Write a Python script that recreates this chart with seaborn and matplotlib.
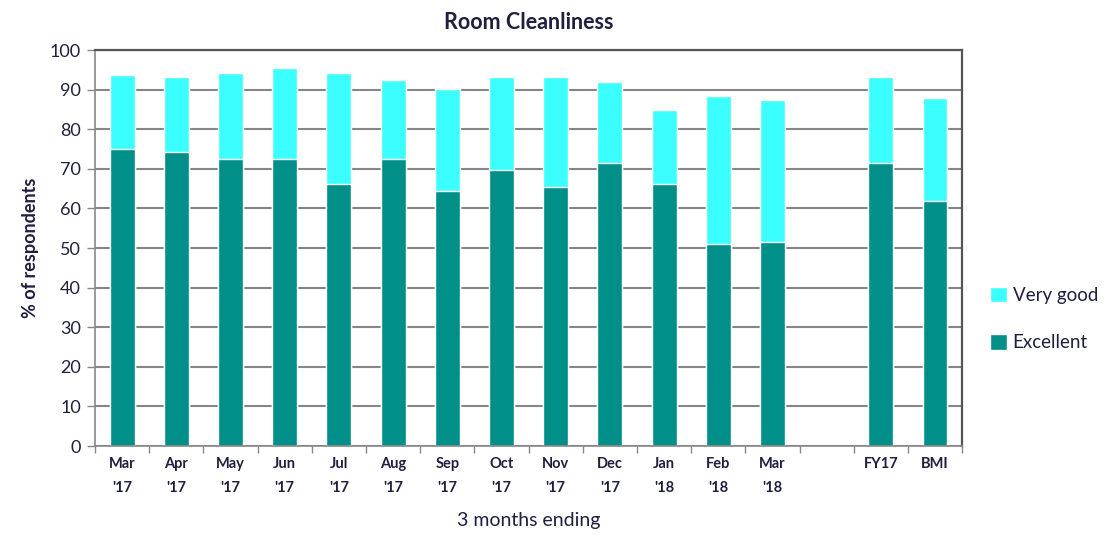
import numpy as np
import pandas as pd
import matplotlib
matplotlib.use("Agg")
import matplotlib.pyplot as plt
from matplotlib.patches import Patch
from matplotlib.ticker import FixedLocator
import seaborn as sns

# Survey periods (a blank slot separates the monthly series from the summaries)
periods = ["Mar\n'17", "Apr\n'17", "May\n'17", "Jun\n'17", "Jul\n'17", "Aug\n'17",
           "Sep\n'17", "Oct\n'17", "Nov\n'17", "Dec\n'17", "Jan\n'18", "Feb\n'18",
           "Mar\n'18", " ", "FY17", "BMI"]
excellent = [74.9, 74.3, 72.6, 72.6, 66.2, 72.6, 64.4, 69.7, 65.5, 71.4, 66.2, 51.0,
             51.5, np.nan, 71.4, 62.0]
very_good = [18.8, 18.8, 21.7, 22.9, 28.1, 19.9, 25.8, 23.4, 27.6, 20.5, 18.7, 37.5,
             35.8, np.nan, 21.7, 25.9]

COL_VG = "#3BFFFF"
COL_EX = "#008F89"
TXT = "#1F1F3F"

df = pd.DataFrame({"period": periods, "excellent": excellent, "very_good": very_good})
df["total"] = df["excellent"] + df["very_good"]

sns.set_theme(style="white")
plt.rcParams["font.family"] = ["Lato", "DejaVu Sans"]

fig = plt.figure(figsize=(11.11, 5.5), dpi=100)
ax = fig.add_axes([0.0855, 0.189, 0.7805, 0.72])

sns.barplot(data=df, x="period", y="total", order=periods, color=COL_VG,
            width=0.46, saturation=1, ax=ax, errorbar=None)
sns.barplot(data=df, x="period", y="excellent", order=periods, color=COL_EX,
            width=0.46, saturation=1, ax=ax, errorbar=None)

ax.set_xlim(-0.5, len(periods) - 0.5)
ax.set_ylim(0, 100)
ax.set_yticks(np.arange(0, 101, 10))
ax.yaxis.grid(True, color="#858585", linewidth=1.5)
ax.set_axisbelow(True)

# Category labels centred under each bar; tick marks at slot boundaries
ax.tick_params(axis="x", which="major", length=0, pad=8, labelsize=10.5,
               labelcolor=TXT)
ax.xaxis.set_minor_locator(FixedLocator(np.arange(-0.5, len(periods), 1.0)))
ax.tick_params(axis="x", which="minor", length=5, width=1, color="#888888",
               direction="out", bottom=True)
ax.tick_params(axis="y", length=6, width=1, color="#888888", direction="out",
               left=True, labelsize=13, labelcolor=TXT, pad=4)
for lbl in ax.get_xticklabels():
    lbl.set_fontweight("bold")
    lbl.set_linespacing(1.9)

for side in ["left", "bottom"]:
    ax.spines[side].set_color("#888888")
    ax.spines[side].set_linewidth(1.2)
for side in ["top", "right"]:
    ax.spines[side].set_color("#555555")
    ax.spines[side].set_linewidth(1.6)

ax.set_xlabel("3 months ending", fontsize=14, color=TXT, labelpad=12)
ax.set_ylabel("% of respondents", fontsize=13, fontweight="bold", color=TXT,
              labelpad=8)
ax.set_title("Room Cleanliness", fontsize=15.5, fontweight="bold", color=TXT, pad=15)

handles = [Patch(facecolor=COL_VG, label="Very good"),
           Patch(facecolor=COL_EX, label="Excellent")]
fig.legend(handles=handles, loc="center left", bbox_to_anchor=(0.876, 0.42),
           frameon=False, fontsize=13.5, handlelength=0.9, handleheight=0.9,
           handletextpad=0.3, labelspacing=1.6, labelcolor=TXT)

fig.savefig("out.png", dpi=100)
